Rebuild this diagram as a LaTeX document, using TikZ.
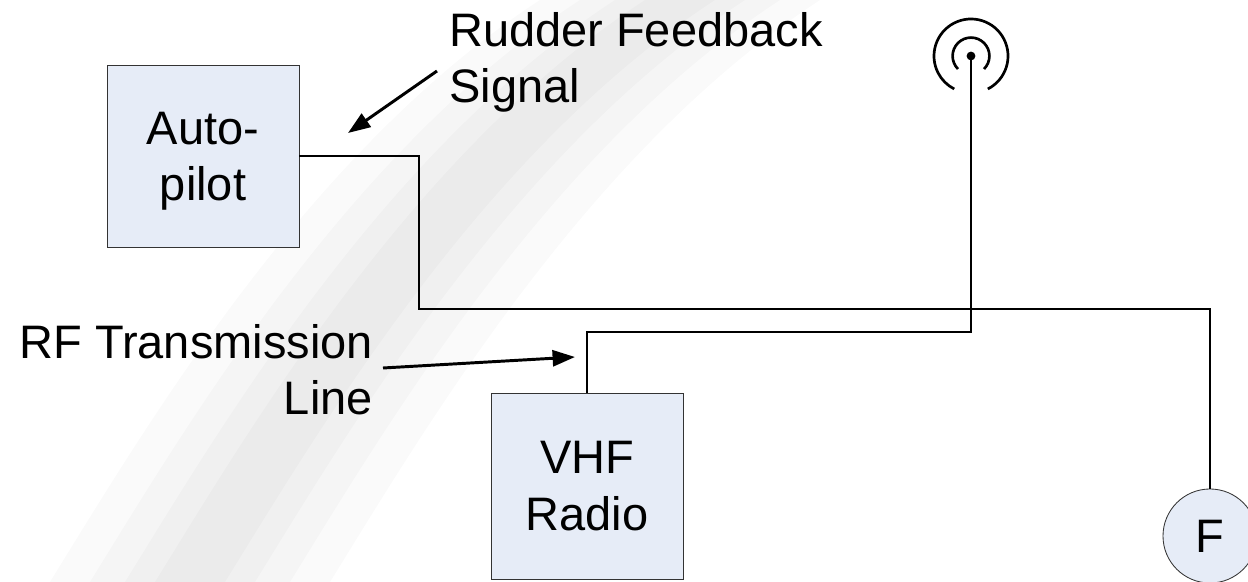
\documentclass[tikz,border=0pt]{standalone}
\usepackage{fontspec}
\setmainfont{Liberation Sans}
\usetikzlibrary{arrows.meta}

\definecolor{boxblue}{RGB}{230,236,247}

\tikzset{
  unit/.style={draw=black!80, line width=0.6pt, fill=boxblue, minimum width=4.8cm, align=center, inner sep=0pt},
  sensor/.style={draw=black!80, line width=0.6pt, fill=boxblue, circle, minimum size=2.35cm, inner sep=0pt},
  wire/.style={line width=2.1pt},
  lbl/.style={inner sep=0pt},
}

\begin{document}
\begin{tikzpicture}[x=0.025cm, y=-0.025cm, >={Triangle[length=0.56cm,width=0.4cm]},
    font=\fontsize{33.4pt}{40pt}\selectfont]
        \useasboundingbox (0,0) rectangle (1248,582);
        % faint background swoosh, soft edges by layering
        \foreach \h in {140,100,65,35}
          \fill[black, opacity=0.02] (190-\h,582) .. controls (290-\h,420) and (450-\h,150) .. (680-\h,0)
            -- (680+\h,0) .. controls (450+\h,150) and (290+\h,420) .. (190+\h,582) -- cycle;
        % units
        \node[unit, minimum height=4.55cm, text depth=0pt] (ap) at (203,156) {Auto-\\pilot};
        \node[unit, minimum height=4.65cm] (vhf) at (587,486) {VHF\\Radio};
        \node[sensor] (fb) at (1210,536) {F};
        % antenna
        \coordinate (ant) at (971,56);
        \fill (ant) circle (0.11cm);
        \draw[line width=1.9pt] (ant) ++(-45:0.46cm) arc[start angle=-45, end angle=225, radius=0.46cm];
        \draw[line width=1.9pt] (ant) ++(-63:0.925cm) arc[start angle=-63, end angle=243, radius=0.925cm];
        % wiring
        \draw[wire] (ap.east) -| (419,309) -| (fb.north);
        \draw[wire] (vhf.north) |- (971,332) -- (ant);
        % callouts
        \node[lbl, align=left, anchor=west] (rfs) at (449,62) {Rudder Feedback\\Signal};
        \node[lbl, align=right, anchor=east] (rfl) at (373,370) {RF Transmission\\Line};
        \coordinate (rfs-tip) at (348,133);
        \coordinate (rfl-tip) at (575,357);
        \draw[wire, ->] ([shift={(-12,9)}]rfs.west) -- (rfs-tip);
        \draw[wire, ->] ([shift={(10,-2)}]rfl.east) -- (rfl-tip);
\end{tikzpicture}
\end{document}
